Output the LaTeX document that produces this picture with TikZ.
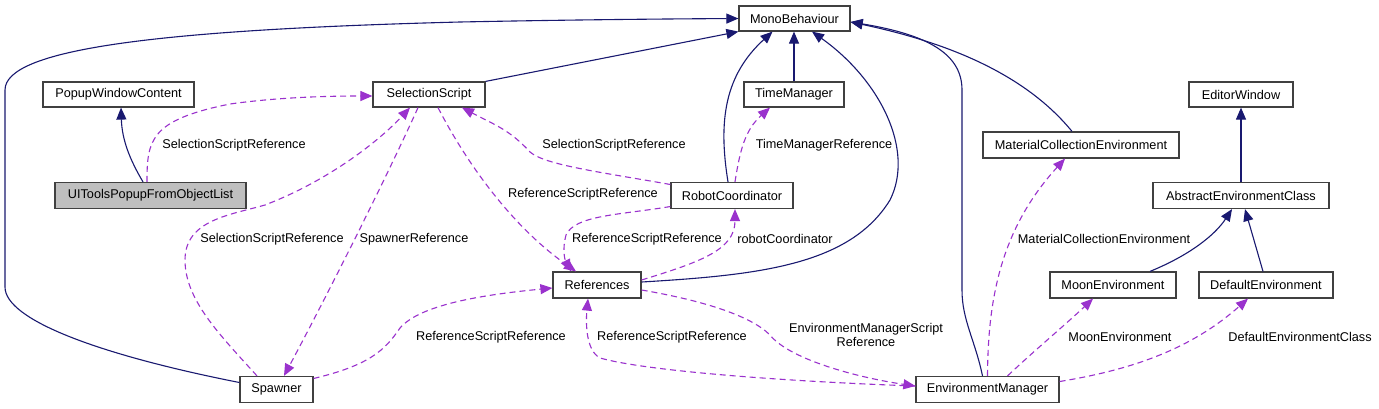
\documentclass[tikz,border=0pt]{standalone}
\usepackage{fontspec}
\setmainfont{Liberation Sans}
\usetikzlibrary{arrows.meta}
\definecolor{navy}{HTML}{191970}
\definecolor{orch}{HTML}{9A32CD}
\definecolor{boxline}{HTML}{404040}
\definecolor{boxgrey}{HTML}{BFBFBF}
\tikzset{
  cls/.style={draw=boxline, line width=1.2pt, fill=white, inner sep=0pt, minimum height=25pt, font=\fontsize{12.7}{14.5}\selectfont, text=black},
  inh/.style={draw=navy, line width=1.1pt, -{Triangle[length=12pt,width=10pt]}, fill=none},
  use/.style={draw=orch, line width=1.1pt, dash pattern=on 6pt off 4pt, -{Triangle[length=12pt,width=10pt]}},
  lbl/.style={font=\fontsize{12.7}{14.5}\selectfont, text=black, inner sep=0pt, align=center}
}
\begin{document}
\begin{tikzpicture}[x=1pt,y=-1pt]
\useasboundingbox[fill=white] (0,0) rectangle (1379,408);
% nodes
\node[cls, minimum width=111pt] (mono) at (794.5,18.5) {MonoBehaviour};
\node[cls, minimum width=151pt] (pwc) at (118.5,94.5) {PopupWindowContent};
\node[cls, minimum width=112pt] (ss) at (429,94.5) {SelectionScript};
\node[cls, minimum width=191pt, minimum height=26pt, fill=boxgrey] (ui) at (150.5,195.5) {UIToolsPopupFromObjectList};
\node[cls, minimum width=100pt] (tm) at (794,94.5) {TimeManager};
\node[cls, minimum width=122pt, minimum height=26pt] (rc) at (732,195.5) {RobotCoordinator};
\node[cls, minimum width=104pt] (ew) at (1241,94.5) {EditorWindow};
\node[cls, minimum width=196pt, minimum height=26pt] (mce) at (1081,145) {MaterialCollectionEnvironment};
\node[cls, minimum width=176pt, minimum height=26pt] (aec) at (1241,195.5) {AbstractEnvironmentClass};
\node[cls, minimum width=88pt, minimum height=26pt] (ref) at (597,285) {References};
\node[cls, minimum width=126pt, minimum height=26pt] (moon) at (1113,285) {MoonEnvironment};
\node[cls, minimum width=134pt, minimum height=26pt] (def) at (1266,285) {DefaultEnvironment};
\node[cls, minimum width=73pt, minimum height=26pt] (spw) at (276.5,389.5) {Spawner};
\node[cls, minimum width=143pt, minimum height=26pt] (em) at (987.5,389.5) {EnvironmentManager};

% inheritance
\draw[inh] ([yshift=7pt]spw.west) .. controls (100,355) and (5,320) .. (5,287) -- (5,90) .. controls (5,50) and (150,30) .. (460,22) .. controls (560,20) and (650,19) .. (mono.west);
\draw[inh] (ss.north east) -- (mono.south west);
\draw[inh] ([xshift=-4pt]rc.north) .. controls (718,120) and (725,75) .. ([xshift=-22pt]mono.south);
\draw[inh] (tm.north) -- (tm.north |- mono.south);
\draw[inh] ([yshift=3pt]ref.east) .. controls (760,275) and (850,265) .. (890,200) .. controls (915,150) and (880,80) .. ([xshift=17.5pt]mono.south);
\draw[inh] ([xshift=-5pt]em.north) .. controls (975,340) and (962,320) .. (962,290) -- (962,90) .. controls (962,55) and (930,35) .. ([yshift=-3.5pt]mono.east);
\draw[inh] ([xshift=-9pt]mce.north) .. controls (1030,80) and (960,45) .. ([yshift=-3.5pt]mono.east);
\draw[inh] ([xshift=-7.5pt]ui.north) .. controls (130,160) and (122,140) .. ([xshift=2.5pt]pwc.south);
\draw[inh] (aec.north) -- (ew.south);
\draw[inh] ([xshift=37pt]moon.north) .. controls (1190,255) and (1215,235) .. ([xshift=-9pt]aec.south);
\draw[inh] ([xshift=-3pt]def.north) -- ([xshift=4pt]aec.south);

% usage
\draw[use] ([xshift=-3.5pt]ui.north) .. controls (147,140) and (150,120) .. (230,104) .. controls (280,97) and (330,96) .. ([yshift=-1.5pt]ss.west);
\node[lbl] (l1) at (234,145) {SelectionScriptReference};

\draw[use] ([xshift=-19.5pt]spw.north) .. controls (220,335) and (185,300) .. (185,260) .. controls (185,220) and (230,215) .. (265,205) .. controls (330,180) and (380,140) .. ([xshift=-19pt]ss.south);
\node[lbl] (l2) at (272,239) {SelectionScriptReference};

\draw[use] ([xshift=-11pt]ss.south) .. controls (390,170) and (330,290) .. ([xshift=7.5pt]spw.north);
\node[lbl] (l3) at (414,239) {SpawnerReference};

\draw[use] ([xshift=9pt]ss.south) .. controls (465,160) and (510,225) .. ([xshift=-21pt]ref.north);
\node[lbl] (l4) at (583,194) {ReferenceScriptReference};

\draw[use] ([yshift=11pt]rc.west) .. controls (600,172) and (545,165) .. (530,152) .. controls (510,130) and (495,125) .. ([xshift=33pt]ss.south);
\node[lbl] (l5) at (614,145) {SelectionScriptReference};

\draw[use] ([xshift=3pt]rc.north) .. controls (740,150) and (745,130) .. ([xshift=-24pt]tm.south);
\node[lbl] (l6) at (824,145) {TimeManagerReference};

\draw[use] ([yshift=-11pt]rc.west) .. controls (620,215) and (575,215) .. (566,235) .. controls (562,250) and (565,260) .. ([xshift=-26pt]ref.north);
\node[lbl] (l7) at (647,239) {ReferenceScriptReference};

\draw[use] ([yshift=5pt]ref.east) .. controls (700,262) and (735,250) .. ([xshift=3pt]rc.south);
\node[lbl] (l8) at (785,239) {robotCoordinator};

\draw[use] ([yshift=11pt]spw.east) .. controls (370,365) and (385,350) .. (400,328) .. controls (420,305) and (480,295) .. ([yshift=-3pt]ref.west);
\node[lbl] (l9) at (491,337) {ReferenceScriptReference};

\draw[use] ([yshift=3.5pt]em.west) .. controls (800,382) and (650,372) .. (600,358) .. controls (585,350) and (586,320) .. ([xshift=-9pt]ref.south);
\node[lbl] (l10) at (672,337) {ReferenceScriptReference};

\draw[use] ([yshift=-5pt]ref.east) .. controls (700,300) and (750,315) .. (770,335) .. controls (790,360) and (860,378) .. ([yshift=3.5pt]em.west);
\node[lbl] (l11) at (866,335) {EnvironmentManagerScript\\Reference};

\draw[use] (em.north) .. controls (988,300) and (1000,230) .. ([xshift=-16pt]mce.south);
\node[lbl] (l12) at (1104,239) {MaterialCollectionEnvironment};

\draw[use] ([xshift=20pt]em.north) .. controls (1035,350) and (1065,325) .. ([xshift=-20pt]moon.south);
\node[lbl] (l13) at (1120,337) {MoonEnvironment};

\draw[use] ([yshift=8pt]em.east) .. controls (1130,370) and (1190,350) .. ([xshift=-18pt]def.south);
\node[lbl] (l14) at (1300,337) {DefaultEnvironmentClass};
\end{tikzpicture}
\end{document}
